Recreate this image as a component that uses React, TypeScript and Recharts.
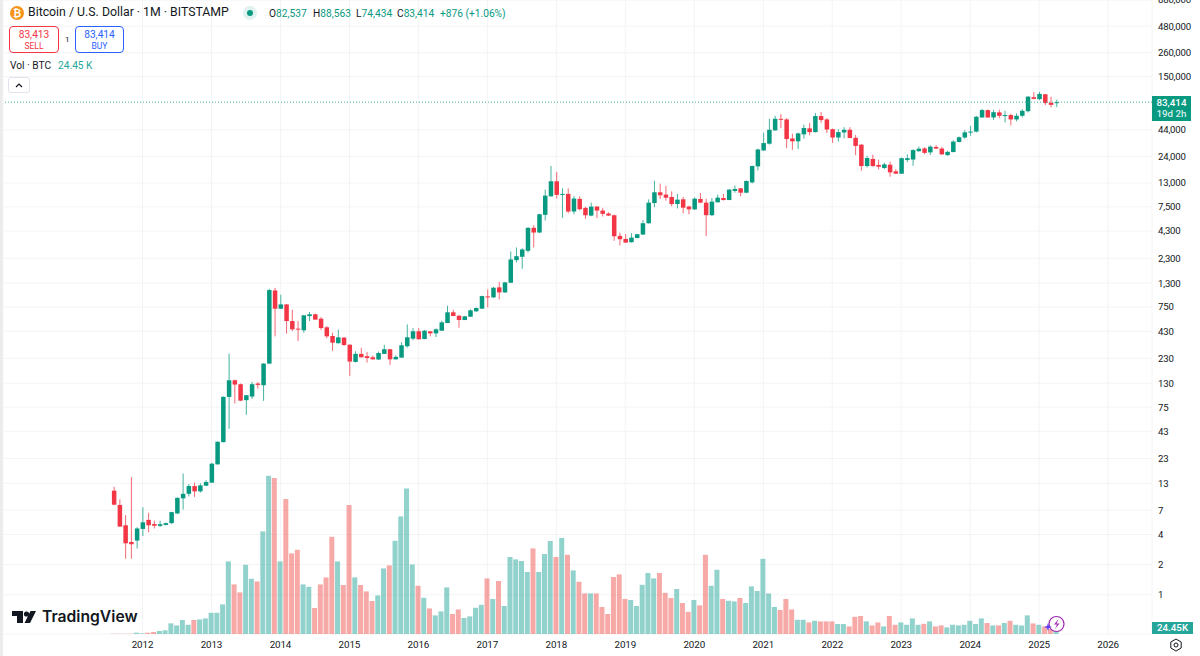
import React from 'react';
import { ComposedChart, Bar, Cell, XAxis, YAxis, CartesianGrid, ReferenceLine } from 'recharts';

// monthly candles, Aug 2011 to Apr 2025
const opens = [
  10.97, 7.9, 4.95, 3.37, 3.48,
  4.55, 5.6, 5.1, 4.88, 4.99, 5.2, 6.5, 9.2, 10.2, 12.2, 10.8, 12.3,
  13.2, 20.1, 33.5, 94.9, 139, 127, 88, 95.6, 129, 124, 204, 1097,
  721, 796, 543, 456, 439, 609, 634, 573, 470, 385, 326, 371,
  315, 212, 255, 242, 236, 224, 255, 284, 225, 234, 304, 362,
  429, 359, 429, 409, 435, 519, 664, 614, 556, 600, 679, 722,
  957, 936, 1178, 1049, 1311, 2205, 2382, 2730, 4634, 4160, 6250, 9570,
  13520, 9950, 10110, 6745, 9020, 7330, 6140, 7570, 6890, 6440, 6190, 3850,
  3590, 3330, 3670, 3970, 5150, 8200, 10500, 9950, 9420, 8020, 8930, 7570,
  7090, 9000, 8270, 6200, 8340, 9200, 8790, 10820, 11500, 10400, 13180, 19050,
  27500, 32100, 43600, 56900, 56100, 36200, 33900, 39800, 45700, 41900, 60600, 56100,
  44800, 37000, 41600, 44200, 36800, 31400, 19200, 22600, 19700, 18350, 19800, 17000,
  16100, 22100, 22300, 27000, 28800, 26300, 29800, 28700, 24700, 26500, 33400, 37000,
  41700, 42400, 58700, 69500, 58700, 66000, 61000, 62000, 56100, 61000, 67800, 93500,
  89500, 100000, 82300, 82537,
];
const highs = [
  12, 9, 6.27, 15, 4.73,
  7.5, 6.6, 5.5, 5.5, 5.25, 6.75, 9.4, 16.3, 12.8, 13.2, 13, 14,
  20.8, 34, 96, 257, 141, 129, 99.5, 134, 133, 206, 1141, 1163,
  995, 805, 705, 543, 625, 668, 645, 595, 484, 416, 446, 376,
  318, 271, 294, 267, 245, 269, 315, 286, 247, 333, 503, 462,
  462, 441, 431, 459, 547, 773, 705, 620, 612, 710, 745, 970,
  1125, 1190, 1330, 1340, 2690, 2950, 2900, 4680, 4920, 6400, 11160, 19240,
  16760, 11500, 11500, 9570, 9570, 7550, 8280, 7570, 7330, 6630, 6290, 4150,
  4020, 4090, 4030, 5550, 8930, 13700, 12800, 12200, 10730, 10100, 9420, 7700,
  9350, 10350, 9060, 9200, 9950, 10100, 11330, 12250, 11590, 13800, 19400, 28600,
  41400, 56900, 61000, 63400, 57800, 40400, 41400, 49800, 51800, 65000, 66800, 57800,
  45500, 44800, 46900, 46900, 39200, 31700, 24300, 24900, 22200, 20750, 21200, 17900,
  23300, 25100, 28300, 30000, 29600, 31000, 31000, 29800, 27200, 34700, 37900, 44000,
  48400, 60800, 71500, 70600, 70000, 70000, 68400, 64000, 64500, 71000, 96000, 105000,
  106000, 100900, 94700, 88563,
];
const lows = [
  7.85, 4.8, 2.29, 2.29, 2.9,
  3.87, 4.2, 4.6, 4.76, 4.95, 5.1, 6.4, 7.1, 9.6, 9.5, 10.5, 12.2,
  13.1, 20, 33.3, 45.5, 81.5, 86, 62.8, 90.6, 115, 86.5, 202, 382,
  715, 406, 432, 343, 416, 543, 559, 442, 365, 273, 324, 306,
  154, 210, 235, 209, 224, 222, 254, 198, 224, 233, 295, 349,
  355, 357, 382, 376, 434, 518, 608, 466, 555, 598, 670, 720,
  743, 925, 893, 1040, 1300, 2090, 1807, 2630, 2950, 4120, 5483, 9500,
  9080, 5830, 6485, 6340, 6950, 5690, 6050, 5780, 6010, 6110, 3440, 3080,
  3280, 3300, 3640, 3950, 5100, 7440, 9000, 8660, 7590, 7250, 6480, 6330,
  6980, 8150, 3830, 6060, 8300, 8660, 8750, 10400, 9560, 10250, 12880, 17380,
  27300, 31400, 43250, 46000, 29000, 27900, 28500, 36000, 38900, 41600, 52000, 41000,
  32600, 33600, 36300, 36300, 24700, 17250, 18600, 18900, 17800, 17900, 15050, 16000,
  16000, 21000, 19300, 26700, 25200, 24800, 28500, 24900, 24300, 26300, 33000, 36000,
  38500, 41500, 58000, 58000, 55500, 57700, 52400, 48900, 53600, 58700, 66000, 89000,
  87500, 78000, 74100, 74434,
];
const closes = [
  7.95, 4.8, 3.27, 3.2, 4.6,
  5.3, 4.95, 4.9, 5.07, 5.2, 6.7, 9.3, 10.2, 12.2, 10.8, 12.4, 13.4,
  20.4, 33.8, 94.9, 139, 126, 87, 98.6, 127, 125, 204, 1107, 721,
  796, 543, 449, 449, 619, 634, 561, 462, 382, 330, 373, 313,
  214, 255, 236, 232, 225, 260, 284, 225, 238, 311, 374, 429,
  357, 435, 409, 449, 527, 664, 610, 556, 605, 695, 732, 964,
  936, 1168, 1049, 1320, 2239, 2414, 2818, 4634, 4160, 6338, 9725, 13520,
  9890, 10110, 6745, 9085, 7110, 6190, 7550, 6890, 6390, 6140, 3820, 3565,
  3300, 3700, 4000, 5150, 8270, 10500, 9800, 9270, 8020, 8860, 7370, 7090,
  9060, 8270, 6200, 8460, 9270, 8790, 11150, 11330, 10400, 13600, 19200, 28100,
  32600, 44200, 56900, 56100, 35700, 33900, 40700, 46000, 41900, 60600, 55300, 44500,
  37000, 41900, 44200, 36600, 30500, 19200, 23100, 19200, 18900, 19950, 16600, 16100,
  23000, 23000, 27700, 28600, 26000, 30000, 28700, 25100, 26600, 33700, 37200, 41700,
  42400, 59600, 69500, 58700, 66300, 61000, 62000, 56100, 61000, 68400, 94700, 90000,
  100900, 81700, 78500, 83414,
];
// thousands of BTC
const volumes = [
  1.5, 1.5, 1.5, 1.5, 6.5,
  3.5, 6.5, 10, 15, 18.5, 53, 43, 70, 46, 70, 73, 78,
  106, 106, 148, 363, 248, 208, 346, 276, 263, 513, 791, 780,
  363, 675, 403, 421, 248, 236, 130, 248, 283, 486, 363, 245,
  645, 283, 245, 213, 165, 193, 328, 343, 466, 588, 728, 348,
  241, 181, 128, 93, 113, 233, 100, 123, 80, 88, 131, 146,
  278, 175, 265, 140, 385, 373, 365, 310, 428, 310, 400, 465,
  385, 480, 396, 318, 261, 203, 203, 203, 135, 100, 285, 298,
  175, 170, 140, 246, 305, 278, 305, 206, 180, 225, 155, 111,
  170, 143, 396, 241, 321, 175, 166, 163, 180, 155, 238, 215,
  376, 203, 135, 120, 175, 123, 71, 71, 58, 66, 63, 63,
  63, 50, 50, 38, 86, 90, 63, 43, 58, 38, 90, 46,
  58, 46, 78, 46, 51, 63, 38, 43, 33, 46, 43, 46,
  66, 50, 78, 55, 43, 43, 55, 66, 46, 43, 93, 53,
  46, 38, 25, 24.45,
];
const priceTicks = [880000, 480000, 260000, 150000, 44000, 24000, 13000, 7500, 4300, 2300, 1300, 750, 430, 230, 130, 75, 43, 23, 13, 7, 4, 2, 1];
const yearTicks = [0, 12, 24, 36, 48, 60, 72, 84, 96, 108, 120, 132, 144, 156, 168];

const UP = '#089981';
const DOWN = '#F23645';
const VOL_UP = '#26A69A';
const VOL_DOWN = '#EF5350';
const AXIS_FONT = 'Roboto, sans-serif';
const LAST_PRICE = 83414;

// t = months since Jan 2012
const rows = opens.map((open, i) => ({
  t: i - 5,
  open,
  high: highs[i],
  low: lows[i],
  close: closes[i],
  volume: volumes[i] * 1000,
  range: [lows[i], highs[i]],
}));

const Candle = (props: any) => {
  const { x, y, width, height, payload } = props;
  const { open, close, high, low } = payload;
  const color = close >= open ? UP : DOWN;
  // position between high and low on the log scale
  const at = (v: number) => y + (height * (Math.log(high) - Math.log(v))) / (Math.log(high) - Math.log(low));
  const top = at(Math.max(open, close));
  const bottom = at(Math.min(open, close));
  const mid = x + width / 2;
  return (
    <g>
      <line x1={mid} x2={mid} y1={y} y2={y + height} stroke={color} strokeWidth={1} strokeOpacity={0.75} />
      <rect x={x} y={top} width={width} height={Math.max(bottom - top, 1)} fill={color} />
    </g>
  );
};

const box = (left: number, top: number, extra: React.CSSProperties = {}): React.CSSProperties => ({
  position: 'absolute',
  left,
  top,
  fontFamily: AXIS_FONT,
  fontSize: 10.2,
  lineHeight: '13px',
  whiteSpace: 'nowrap',
  color: '#131722',
  ...extra,
});

const App = () => (
  <div style={{ position: 'absolute', left: 0, top: 0, width: 1200, height: 656, background: '#fff', overflow: 'hidden' }}>
    <div style={{ position: 'absolute', left: 0, top: 0, width: 3, height: 656, background: '#ebebeb' }} />
    <ComposedChart width={1200} height={656} data={rows} margin={{ top: 0, right: 0, bottom: 0, left: 3 }}>
      <CartesianGrid xAxisId="price" yAxisId="price" stroke="#f3f4f6" strokeWidth={1} />
      <XAxis
        xAxisId="price"
        dataKey="t"
        type="number"
        domain={[-24.27, 175.63]}
        ticks={yearTicks}
        interval={0}
        height={22}
        tickFormatter={(t: number) => String(2012 + t / 12)}
        axisLine={false}
        tickLine={false}
        tickSize={0}
        tickMargin={7}
        tick={{ fontFamily: AXIS_FONT, fontSize: 9.8, fill: '#131722', letterSpacing: -0.1 }}
      />
      <XAxis xAxisId="vol" dataKey="t" type="number" domain={[-24.27, 175.63]} hide />
      <YAxis
        yAxisId="price"
        orientation="right"
        width={48}
        scale="log"
        domain={[0.4059, 875000]}
        allowDataOverflow
        ticks={priceTicks}
        interval={0}
        tickFormatter={(v: number) => v.toLocaleString('en-US')}
        axisLine={false}
        tickLine={false}
        tickSize={0}
        tickMargin={6}
        tick={{ fontFamily: AXIS_FONT, fontSize: 9.6, fill: '#131722', textAnchor: 'start', letterSpacing: -0.2 }}
      />
      <YAxis yAxisId="vol" orientation="right" width={0} domain={[0, 3170000]} allowDataOverflow hide />
      <Bar xAxisId="vol" yAxisId="vol" dataKey="volume" barSize={5} isAnimationActive={false}>
        {rows.map((r) => (
          <Cell key={r.t} fill={r.close >= r.open ? VOL_UP : VOL_DOWN} fillOpacity={0.5} />
        ))}
      </Bar>
      <ReferenceLine xAxisId="price" yAxisId="price" y={LAST_PRICE} stroke="#3fae9c" strokeDasharray="1 2" strokeWidth={1} />
      <Bar xAxisId="price" yAxisId="price" dataKey="range" barSize={4.5} shape={Candle} isAnimationActive={false} />
    </ComposedChart>

    {/* legend, top left */}
    <svg style={{ position: 'absolute', left: 10, top: 6 }} width={14} height={14}>
      <circle cx={7} cy={7} r={7} fill="#F7931A" />
      <text x={7} y={10.5} textAnchor="middle" fontSize={10} fontWeight={700} fontFamily={AXIS_FONT} fill="#fff">₿</text>
    </svg>
    <div style={box(28, 6, { fontSize: 12.3 })}>Bitcoin / U.S. Dollar · 1M · BITSTAMP</div>
    <svg style={{ position: 'absolute', left: 243, top: 6 }} width={14} height={14}>
      <circle cx={7} cy={7} r={7} fill="#e0f2ef" />
      <circle cx={7} cy={7} r={3} fill={UP} />
    </svg>
    <div style={box(269, 7)}>O<span style={{ color: UP }}>82,537</span></div>
    <div style={box(313, 7)}>H<span style={{ color: UP }}>88,563</span></div>
    <div style={box(356, 7)}>L<span style={{ color: UP }}>74,434</span></div>
    <div style={box(397, 7)}>C<span style={{ color: UP }}>83,414</span></div>
    <div style={box(440, 7, { color: UP })}>+876 (+1.06%)</div>
    <div style={box(9, 26, { width: 48, height: 25, border: '1px solid #F23645', borderRadius: 4, textAlign: 'center', color: DOWN, boxSizing: 'content-box' })}>
      <div style={{ fontSize: 10.2, lineHeight: '13px', marginTop: 1 }}>83,413</div>
      <div style={{ fontSize: 8.5, lineHeight: '10px' }}>SELL</div>
    </div>
    <div style={box(65, 33, { fontSize: 8 })}>1</div>
    <div style={box(75, 26, { width: 47, height: 25, border: '1px solid #2962FF', borderRadius: 4, textAlign: 'center', color: '#2962FF', boxSizing: 'content-box' })}>
      <div style={{ fontSize: 10.2, lineHeight: '13px', marginTop: 1 }}>83,414</div>
      <div style={{ fontSize: 8.5, lineHeight: '10px' }}>BUY</div>
    </div>
    <div style={box(10, 59)}>Vol · BTC</div>
    <div style={box(58, 59, { color: VOL_UP })}>24.45 K</div>
    <div style={{ position: 'absolute', left: 8, top: 77, width: 22, height: 16, border: '1px solid #e0e3eb', borderRadius: 3, boxSizing: 'border-box', background: '#fff' }}>
      <svg width={20} height={14} style={{ display: 'block' }}>
        <path d="M7 9 L10 6 L13 9" fill="none" stroke="#131722" strokeWidth={1.2} />
      </svg>
    </div>

    {/* last price and volume tags */}
    <div style={box(1152, 96, { width: 39, height: 25, paddingTop: 1, boxSizing: 'border-box', background: UP, color: '#fff', fontSize: 9.8, lineHeight: '11px', textAlign: 'center', fontWeight: 500 })}>
      83,414<br /><span style={{ color: '#d5efea' }}>19d 2h</span>
    </div>
    <div style={box(1152, 622, { width: 41, height: 12, background: VOL_UP, color: '#fff', fontSize: 9.8, lineHeight: '12px', textAlign: 'center', fontWeight: 500 })}>24.45K</div>

    {/* logo */}
    <svg style={{ position: 'absolute', left: 12, top: 610 }} width={26} height={14}>
      <path d="M0 1 H11 V13 H5 V6 H0 Z M24 1 L18 13 H12.5 L18.5 1 Z" fill="#131722" />
      <circle cx={14.5} cy={4} r={2.6} fill="#131722" />
    </svg>
    <div style={box(42, 607, { fontFamily: 'Inter, sans-serif', fontSize: 15.7, lineHeight: '20px', fontWeight: 600 })}>TradingView</div>

    {/* badge on the last volume bar */}
    <svg style={{ position: 'absolute', left: 1043, top: 614 }} width={24} height={20}>
      <circle cx={13.5} cy={10} r={7.5} fill="#fff" stroke="#9C27B0" strokeWidth={1.2} />
      <path d="M15.5 5 L11 10.5 H14 L12 15 L16.5 9.5 H13.5 Z" fill="#9C27B0" />
      <path d="M5 9 L6 12 L9 13 L6 14 L5 17 L4 14 L1 13 L4 12 Z" fill="#5B3DF5" />
    </svg>
    {/* settings gear */}
    <svg style={{ position: 'absolute', left: 1169, top: 638 }} width={14} height={14}>
      <path d="M7 1 L12.2 4 V10 L7 13 L1.8 10 V4 Z" fill="none" stroke="#131722" strokeWidth={1} />
      <circle cx={7} cy={7} r={2} fill="none" stroke="#131722" strokeWidth={1} />
    </svg>
  </div>
);

export default App;
